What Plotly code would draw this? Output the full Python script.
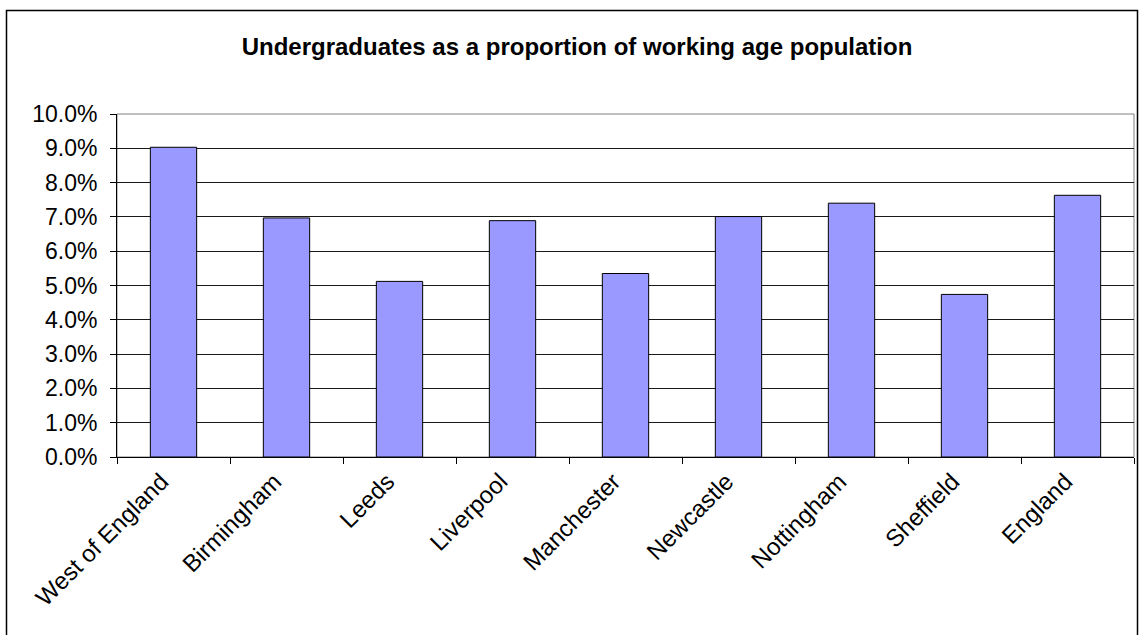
import plotly.graph_objects as go

categories = ["West of England", "Birmingham", "Leeds", "Liverpool", "Manchester",
              "Newcastle", "Nottingham", "Sheffield", "England"]
values = [0.0903, 0.0697, 0.0512, 0.0689, 0.0535, 0.0701, 0.0740, 0.0474, 0.0763]
title_text = "Undergraduates as a proportion of working age population"

W, H = 1139, 635
L, R, T, B = 117, 5, 114, 178
pw, ph = W - L - R, H - T - B

fig = go.Figure(go.Bar(
    x=categories, y=values,
    marker=dict(color="#9999FF", line=dict(color="#000000", width=1)),
    width=0.41,
))

font = "Liberation Sans, Arial, sans-serif"
fig.update_layout(
    width=W, height=H,
    margin=dict(l=L, r=R, t=T, b=B),
    paper_bgcolor="white", plot_bgcolor="white",
    font=dict(family=font, size=22, color="black"),
    title=dict(text="<b>" + title_text + "</b>", x=577 / W, xref="container",
               xanchor="center", y=1 - 47 / H, yanchor="middle",
               font=dict(family=font, size=24, color="black")),
    showlegend=False,
    bargap=0.6,
)
fig.update_xaxes(
    showline=True, linecolor="black", linewidth=1,
    ticks="outside", ticklen=6, tickcolor="black", tickson="boundaries",
    tickangle=-45, showgrid=False, ticklabelshift=-12,
    tickfont=dict(family=font, size=24, color="black"),
)
fig.update_yaxes(
    range=[0, 0.10], dtick=0.01, tickformat=".1%",
    showline=True, linecolor="black", linewidth=1,
    ticks="outside", ticklen=6, tickcolor="black",
    ticklabelstandoff=8,
    showgrid=True, gridcolor="#1a1a1a", gridwidth=1,
    zeroline=False,
    tickfont=dict(family=font, size=23, color="black"),
)
# plot area border (gray) and outer chart border (black)
fig.add_shape(type="rect", xref="paper", yref="paper", x0=0, x1=1, y0=0, y1=1,
              line=dict(color="#808080", width=1), layer="below")
fig.add_shape(type="rect", xref="paper", yref="paper",
              x0=(6.5 - L) / pw, x1=(1137.5 - L) / pw,
              y0=(-10 - B) / ph, y1=(H - 10.5 - B) / ph,
              line=dict(color="black", width=1.5))

fig.write_html("out.html", config={"displayModeBar": False},
               post_script="document.body.style.margin='0';")
